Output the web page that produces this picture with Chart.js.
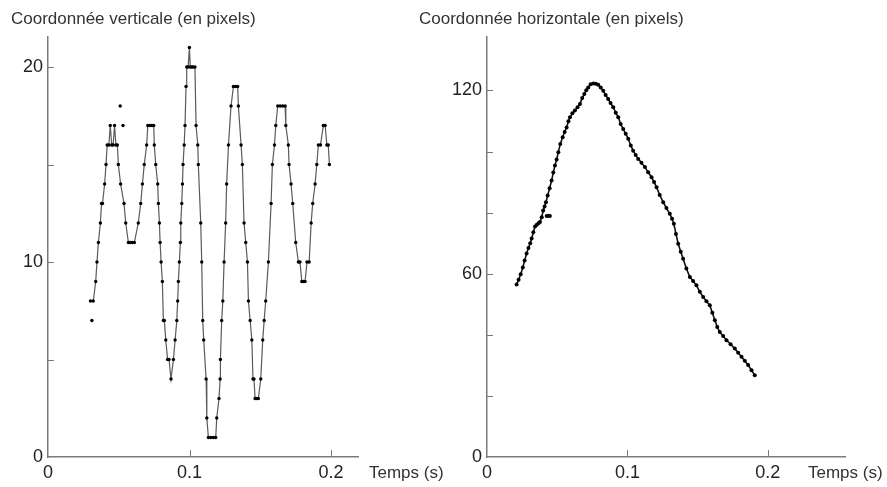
<!DOCTYPE html>
<html>
<head>
<meta charset="utf-8">
<script src="https://cdn.jsdelivr.net/npm/chart.js@4.4.1/dist/chart.umd.min.js"></script>
<style>
  html, body { margin: 0; padding: 0; background: #fff; }
  #wrap { position: relative; width: 887px; height: 487px; }
  canvas { position: absolute; top: 0; }
</style>
</head>
<body>
<div id="wrap">
  <canvas id="left" width="460" height="487" style="left:0"></canvas>
  <canvas id="right" width="487" height="487" style="left:400px"></canvas>
</div>
<script>
// Vertical coordinate (pixels) against time (s)
const vertTime = [
  0.0300, 0.0320, 0.0337, 0.0346, 0.0356, 0.0370, 0.0378, 0.0385, 0.0400, 0.0410,
  0.0418, 0.0430, 0.0440, 0.0450, 0.0460, 0.0470, 0.0480, 0.0490, 0.0497, 0.0513,
  0.0537, 0.0549, 0.0568, 0.0580, 0.0595, 0.0610, 0.0638, 0.0655, 0.0667, 0.0680,
  0.0697, 0.0705, 0.0720, 0.0735, 0.0747, 0.0751, 0.0761, 0.0775, 0.0780, 0.0787,
  0.0792, 0.0799, 0.0808, 0.0815, 0.0822, 0.0832, 0.0845, 0.0855, 0.0869, 0.0886,
  0.0898, 0.0910, 0.0916, 0.0921, 0.0928, 0.0935, 0.0938, 0.0945, 0.0950, 0.0954,
  0.0962, 0.0968, 0.0975, 0.0980, 0.0990, 0.0999, 0.1005, 0.1015, 0.1025, 0.1038,
  0.1046, 0.1058, 0.1062, 0.1079, 0.1086, 0.1093, 0.1100, 0.1117, 0.1122, 0.1133,
  0.1150, 0.1168, 0.1185, 0.1192, 0.1208, 0.1216, 0.1218, 0.1227, 0.1235, 0.1244,
  0.1255, 0.1262, 0.1275, 0.1293, 0.1310, 0.1325, 0.1340, 0.1345, 0.1364, 0.1373,
  0.1385, 0.1397, 0.1409, 0.1416, 0.1428, 0.1440, 0.1448, 0.1455, 0.1463, 0.1475,
  0.1486, 0.1503, 0.1517, 0.1527, 0.1538, 0.1557, 0.1576, 0.1585, 0.1600, 0.1609,
  0.1623, 0.1640, 0.1658, 0.1675, 0.1680, 0.1698, 0.1703, 0.1717, 0.1729, 0.1750,
  0.1769, 0.1780, 0.1793, 0.1805, 0.1816, 0.1830, 0.1845, 0.1859, 0.1870, 0.1887,
  0.1899, 0.1910, 0.1925, 0.1945, 0.1958, 0.1970, 0.1980, 0.1988
];
const vertValues = [
  8, 8, 9, 10, 11, 12, 13, 13, 14, 15,
  16, 16, 17, 16, 16, 17, 16, 16, 15, 14,
  13, 12, 11, 11, 11, 11, 12, 13, 14, 15,
  16, 17, 17, 17, 17, 16, 15, 14, 13, 12,
  11, 10, 9, 7, 7, 6, 5, 5, 4, 5,
  6, 7, 8, 9, 10, 11, 12, 13, 14, 15,
  16, 17, 19, 20, 20, 21, 20, 20, 20, 20,
  17, 16, 15, 12, 10, 7, 6, 4, 2, 1,
  1, 1, 1, 2, 3, 4, 5, 7, 8, 10,
  12, 14, 16, 18, 19, 19, 19, 18, 16, 15,
  12, 11, 10, 8, 7, 6, 4, 4, 3, 3,
  3, 4, 6, 7, 8, 10, 13, 15, 16, 17,
  18, 18, 18, 18, 17, 16, 15, 14, 13, 11,
  10, 10, 9, 9, 9, 10, 10, 12, 13, 14,
  15, 16, 16, 17, 17, 16, 16, 15
];
// isolated samples off the traced curve
const vertStrayTime = [0.0310, 0.0510, 0.0530];
const vertStrayValues = [7, 18, 17];

// Horizontal coordinate (pixels) against time (s)
const horizTime = [
  0.0211, 0.0225, 0.0240, 0.0255, 0.0268, 0.0282, 0.0295, 0.0308, 0.0318, 0.0330,
  0.0342, 0.0355, 0.0367, 0.0377, 0.0390, 0.0400, 0.0410, 0.0420, 0.0432, 0.0446,
  0.0460, 0.0472, 0.0484, 0.0496, 0.0508, 0.0522, 0.0539, 0.0553, 0.0567, 0.0580,
  0.0591, 0.0608, 0.0626, 0.0645, 0.0662, 0.0678, 0.0693, 0.0707, 0.0721, 0.0738,
  0.0757, 0.0775, 0.0792, 0.0810, 0.0828, 0.0845, 0.0863, 0.0880, 0.0899, 0.0917,
  0.0935, 0.0952, 0.0970, 0.0988, 0.1006, 0.1024, 0.1041, 0.1059, 0.1077, 0.1100,
  0.1125, 0.1148, 0.1172, 0.1190, 0.1208, 0.1230, 0.1255, 0.1278, 0.1302, 0.1318,
  0.1331, 0.1346, 0.1362, 0.1380, 0.1397, 0.1420, 0.1445, 0.1468, 0.1492, 0.1516,
  0.1540, 0.1563, 0.1587, 0.1605, 0.1623, 0.1640, 0.1658, 0.1682, 0.1706, 0.1735,
  0.1765, 0.1789, 0.1813, 0.1836, 0.1860, 0.1884, 0.1907
];
const horizValues = [
  56.5, 58.0, 59.8, 62.0, 64.3, 66.6, 68.4, 70.0, 71.5, 73.6,
  75.5, 76.0, 76.5, 76.9, 78.5, 80.7, 82.0, 83.4, 85.6, 88.0,
  90.5, 93.1, 95.4, 97.4, 99.8, 102.5, 104.7, 106.4, 107.9, 109.9,
  111.2, 112.5, 113.4, 114.5, 115.6, 117.5, 118.8, 120.1, 121.0, 122.0,
  122.3, 122.2, 121.9, 121.0, 119.9, 118.5, 117.2, 115.9, 114.5, 112.7,
  111.2, 109.0, 107.4, 105.8, 104.2, 102.0, 100.3, 98.9, 97.6, 96.3,
  94.9, 93.2, 91.6, 90.0, 88.3, 85.8, 83.4, 81.5, 79.6, 78.0,
  76.4, 73.0, 69.8, 67.2, 64.9, 61.7, 58.9, 57.6, 56.2, 54.1,
  52.4, 51.0, 49.7, 47.2, 44.8, 42.6, 40.9, 39.6, 38.2, 36.9,
  35.5, 34.1, 32.8, 31.5, 30.1, 28.4, 26.8
];
const horizStrayTime = [0.0425, 0.0437, 0.0448];
const horizStrayValues = [78.9, 79.0, 78.9];

const vertTicks = { labelled: [0, 10, 20], step: 5 };
const horizTicks = { labelled: [0, 60, 120], step: 20 };
const timeTicks = [0, 0.1, 0.2];

const FONT = "'Liberation Sans', Arial, sans-serif";
const AXIS = '#7a7a7a';

const toPoints = (xs, ys) => xs.map((x, i) => ({ x: x, y: ys[i] }));

// short tick marks pointing into the plot area
const inwardTicks = {
  id: 'inwardTicks',
  afterDraw(chart) {
    const { ctx, chartArea, scales } = chart;
    ctx.save();
    ctx.strokeStyle = AXIS;
    ctx.lineWidth = 1;
    ctx.beginPath();
    scales.y.ticks.forEach(t => {
      if (t.value === 0) return;
      const py = Math.round(scales.y.getPixelForValue(t.value)) + 0.5;
      ctx.moveTo(chartArea.left, py);
      ctx.lineTo(chartArea.left + 6, py);
    });
    scales.x.ticks.forEach(t => {
      if (t.value === 0) return;
      const px = Math.round(scales.x.getPixelForValue(t.value)) + 0.5;
      ctx.moveTo(px, chartArea.bottom);
      ctx.lineTo(px, chartArea.bottom - 7);
    });
    ctx.stroke();
    ctx.restore();
  }
};

// free-standing captions (axis names)
const captions = {
  id: 'captions',
  afterDraw(chart, args, opts) {
    const ctx = chart.ctx;
    ctx.save();
    ctx.font = '17px ' + FONT;
    ctx.fillStyle = '#333';
    ctx.textBaseline = 'alphabetic';
    (opts.items || []).forEach(it => ctx.fillText(it.text, it.x, it.y));
    ctx.restore();
  }
};

function makeChart(id, cfg) {
  return new Chart(document.getElementById(id), {
    type: 'scatter',
    data: {
      datasets: [
        {
          data: toPoints(cfg.time, cfg.values),
          showLine: true,
          borderColor: cfg.lineColor,
          borderWidth: cfg.lineWidth,
          pointRadius: cfg.dot,
          pointBackgroundColor: '#000',
          pointBorderWidth: 0,
          tension: 0
        },
        {
          data: toPoints(cfg.strayTime, cfg.strayValues),
          showLine: false,
          pointRadius: cfg.dot,
          pointBackgroundColor: '#000',
          pointBorderWidth: 0
        }
      ]
    },
    options: {
      responsive: false,
      animation: false,
      devicePixelRatio: 1,
      layout: { padding: { left: 0, top: 37, right: cfg.padRight, bottom: 0 } },
      plugins: {
        legend: { display: false },
        tooltip: { enabled: false },
        captions: { items: cfg.captions }
      },
      scales: {
        x: {
          type: 'linear',
          min: 0,
          max: cfg.xMax,
          grid: { display: false, drawTicks: false },
          border: { display: true, color: AXIS, width: 1.5 },
          afterFit: s => { s.height = 30; },
          afterBuildTicks: s => { s.ticks = timeTicks.map(v => ({ value: v })); },
          ticks: {
            padding: 5,
            autoSkip: false,
            maxRotation: 0,
            color: '#222',
            font: { family: FONT, size: 18 },
            callback: v => (v === 0 ? '0' : v.toFixed(1))
          }
        },
        y: {
          type: 'linear',
          min: 0,
          max: cfg.yMax,
          grid: { display: false, drawTicks: false },
          border: { display: true, color: AXIS, width: 1.5 },
          afterFit: s => { s.width = cfg.axisLeft; },
          afterBuildTicks: s => {
            const out = [];
            for (let v = 0; v <= cfg.yMax; v += cfg.ticks.step) out.push({ value: v });
            s.ticks = out;
          },
          ticks: {
            padding: 5,
            autoSkip: false,
            color: '#222',
            font: { family: FONT, size: 18 },
            callback: v => (cfg.ticks.labelled.includes(v) ? String(v) : '')
          }
        }
      }
    },
    plugins: [inwardTicks, captions]
  });
}

makeChart('left', {
  time: vertTime, values: vertValues,
  strayTime: vertStrayTime, strayValues: vertStrayValues,
  xMax: 0.219, yMax: 21.54, axisLeft: 48, padRight: 102,
  ticks: vertTicks, lineColor: '#5a5a5a', lineWidth: 1.2, dot: 1.7,
  captions: [
    { text: 'Coordonnée verticale (en pixels)', x: 11, y: 24 },
    { text: 'Temps (s)', x: 369, y: 478 }
  ]
});

makeChart('right', {
  time: horizTime, values: horizValues,
  strayTime: horizStrayTime, strayValues: horizStrayValues,
  xMax: 0.255, yMax: 137.5, axisLeft: 87, padRight: 42,
  ticks: horizTicks, lineColor: '#111', lineWidth: 1.6, dot: 2,
  captions: [
    { text: 'Coordonnée horizontale (en pixels)', x: 19, y: 24 },
    { text: 'Temps (s)', x: 408, y: 478 }
  ]
});
</script>
</body>
</html>
